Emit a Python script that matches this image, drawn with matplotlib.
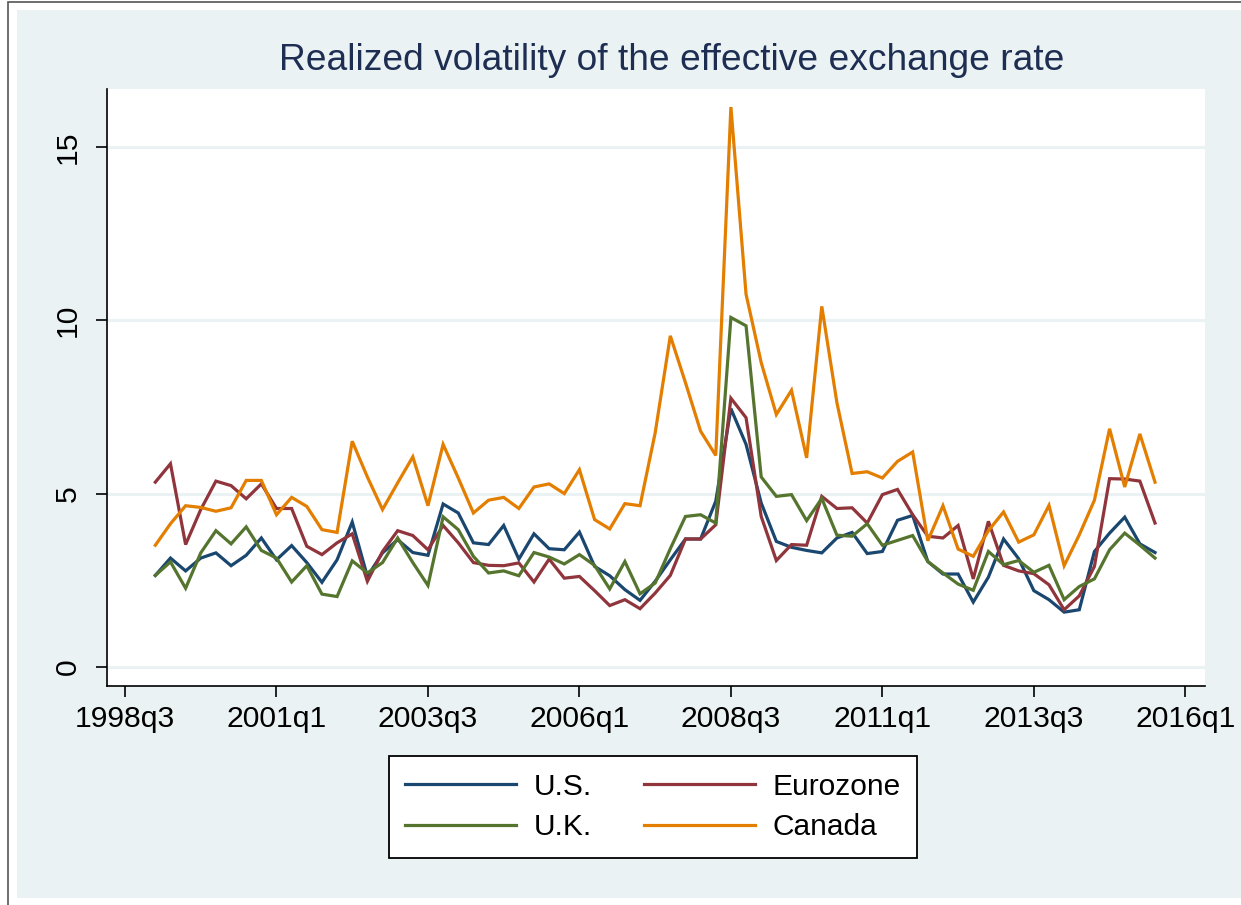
import matplotlib
matplotlib.use("Agg")
import matplotlib.pyplot as plt
from matplotlib.patches import Rectangle
import pandas as pd

plt.rcParams['font.family'] = ['Liberation Sans', 'DejaVu Sans']

# ---- data ----
start_q = "1999Q1"
end_q = "2015Q3"
origin_q = "1998Q3"

us = [2.64, 3.14, 2.77, 3.14, 3.29, 2.92, 3.22, 3.72, 3.09, 3.50,
      3.01, 2.44, 3.09, 4.18, 2.61, 3.29, 3.67, 3.30, 3.22, 4.70,
      4.44, 3.58, 3.53, 4.08, 3.11, 3.84, 3.41, 3.38, 3.89, 2.90,
      2.63, 2.23, 1.92, 2.47, 3.09, 3.69, 3.69, 4.78, 7.45, 6.42,
      4.73, 3.62, 3.45, 3.36, 3.29, 3.72, 3.88, 3.27, 3.33, 4.23,
      4.37, 3.04, 2.68, 2.68, 1.87, 2.59, 3.69, 3.12, 2.20, 1.94,
      1.58, 1.65, 3.33, 3.86, 4.32, 3.55, 3.30]
euro = [5.33, 5.86, 3.53, 4.54, 5.36, 5.23, 4.85, 5.28, 4.57, 4.57,
        3.48, 3.24, 3.58, 3.84, 2.47, 3.33, 3.93, 3.79, 3.38, 4.08,
        3.58, 3.01, 2.93, 2.92, 3.00, 2.45, 3.11, 2.56, 2.61, 2.20,
        1.77, 1.94, 1.68, 2.13, 2.64, 3.69, 3.69, 4.10, 7.75, 7.19,
        4.34, 3.07, 3.53, 3.51, 4.92, 4.57, 4.59, 4.15, 4.97, 5.12,
        4.39, 3.77, 3.72, 4.08, 2.54, 4.20, 2.93, 2.77, 2.69, 2.37,
        1.65, 2.05, 2.90, 5.43, 5.42, 5.36, 4.15]
uk = [2.64, 3.03, 2.27, 3.29, 3.93, 3.55, 4.04, 3.36, 3.14, 2.45,
      2.92, 2.10, 2.03, 3.06, 2.71, 3.01, 3.72, 3.01, 2.35, 4.33,
      3.96, 3.19, 2.71, 2.77, 2.63, 3.30, 3.17, 2.97, 3.24, 2.93,
      2.25, 3.04, 2.11, 2.42, 3.41, 4.34, 4.39, 4.15, 10.08, 9.84,
      5.48, 4.92, 4.97, 4.22, 4.86, 3.80, 3.77, 4.13, 3.51, 3.65,
      3.79, 3.04, 2.71, 2.39, 2.21, 3.33, 2.95, 3.07, 2.73, 2.93,
      1.94, 2.32, 2.54, 3.38, 3.86, 3.51, 3.14]
canada = [3.51, 4.13, 4.65, 4.60, 4.49, 4.59, 5.38, 5.38, 4.39, 4.89,
          4.63, 3.96, 3.88, 6.51, 5.48, 4.54, 5.31, 6.06, 4.65, 6.42,
          5.45, 4.44, 4.81, 4.89, 4.57, 5.19, 5.28, 5.00, 5.69, 4.25,
          3.98, 4.71, 4.65, 6.75, 9.55, 8.20, 6.80, 6.10, 16.15, 10.75,
          8.78, 7.28, 7.98, 6.03, 10.40, 7.62, 5.58, 5.63, 5.45, 5.93,
          6.20, 3.64, 4.65, 3.40, 3.19, 3.93, 4.47, 3.60, 3.81, 4.66,
          2.92, 3.81, 4.81, 6.87, 5.19, 6.72, 5.33]

series_names = ["U.S.", "Eurozone", "U.K.", "Canada"]
series_colors = ["#1A476F", "#90353B", "#55752F", "#E37E00"]

xtick_labels = ["1998q3", "2001q1", "2003q3", "2006q1", "2008q3", "2011q1", "2013q3", "2016q1"]
ytick_values = [0, 5, 10, 15]

title = "Realized volatility of the effective exchange rate"

# ---- positions (quarters since origin) ----
origin = pd.Period(origin_q, freq="Q")
periods = pd.period_range(start_q, end_q, freq="Q")
x = [(p - origin).n for p in periods]
xticks = [(pd.Period(lbl.upper(), freq="Q") - origin).n for lbl in xtick_labels]

# ---- figure ----
W, H = 1241, 905
fig = plt.figure(figsize=(W / 100, H / 100), dpi=100)
fig.patch.set_facecolor("white")

bg = "#EAF2F3"
fig.patches.append(Rectangle((17 / W, 1 - 898 / H), 1.0, (898 - 10) / H,
                             transform=fig.transFigure, facecolor=bg,
                             edgecolor="none", zorder=-3))
fig.patches.append(Rectangle((8 / W, -0.1), 1.2, 1.1 - 2 / H,
                             transform=fig.transFigure, facecolor="none",
                             edgecolor="#555555", lw=1.2, zorder=-2))

ax = fig.add_axes([107 / W, 1 - 686 / H, (1205 - 107) / W, (686 - 89) / H])
ax.set_zorder(1)
ax.set_facecolor("white")

for vals, name, col in zip([us, euro, uk, canada], series_names, series_colors):
    ax.plot(x, vals, color=col, lw=2.3, label=name, solid_joinstyle="miter")

ax.set_xlim(-1.19, 71.3)
ax.set_ylim(-0.55, 16.67)
ax.set_xticks(xticks)
ax.set_xticklabels(xtick_labels)
ax.set_yticks(ytick_values)
ax.set_yticklabels([str(v) for v in ytick_values], rotation=90, va="center")
ax.grid(axis="y", color=bg, lw=2.2)
ax.set_axisbelow(True)

for s in ["top", "right"]:
    ax.spines[s].set_visible(False)
for s in ["left", "bottom"]:
    ax.spines[s].set_color("black")
    ax.spines[s].set_linewidth(1.2)

ax.tick_params(axis="both", direction="out", length=8, width=1.2, color="black",
               labelsize=21.7, labelcolor="black")
ax.tick_params(axis="x", pad=6)
ax.tick_params(axis="y", pad=10)

fig.text(672 / W, 1 - 60 / H, title, ha="center", va="center",
         fontsize=26.7, color="#1E2E52")

# legend in order: U.S., Eurozone / U.K., Canada (row-wise)
handles, labels = ax.get_legend_handles_labels()
order = [0, 2, 1, 3]
leg = fig.legend([handles[i] for i in order], [labels[i] for i in order],
                 ncol=2, loc="center",
                 bbox_to_anchor=((388 + 918) / 2 / W, 1 - (757 + 857) / 2 / H),
                 fontsize=21.5, frameon=True, fancybox=False, framealpha=1.0,
                 handlelength=3.7, handletextpad=0.6, columnspacing=1.75,
                 labelspacing=0.42, borderpad=0.55)
leg.set_zorder(5)
leg.get_frame().set_edgecolor("black")
leg.get_frame().set_linewidth(1.3)
leg.get_frame().set_facecolor("white")
for t in leg.get_texts():
    t.set_color("black")

fig.savefig("out.png", dpi=100, facecolor=fig.get_facecolor())
